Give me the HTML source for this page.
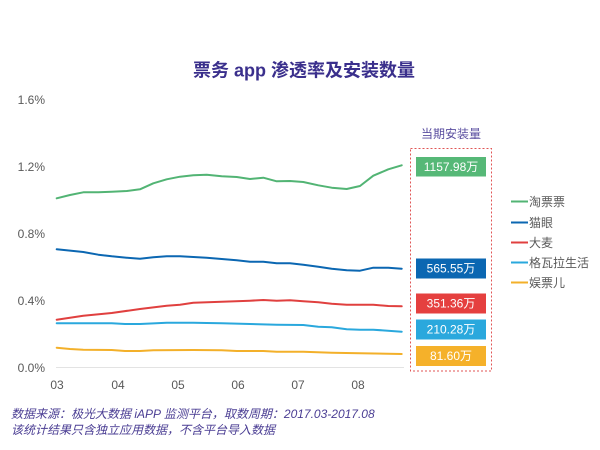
<!DOCTYPE html>
<html><head><meta charset="utf-8"><style>
html,body{margin:0;padding:0;background:#fff;}
svg{display:block;font-family:"Liberation Sans","Noto Sans CJK SC",sans-serif;}
</style></head><body>
<svg width="600" height="450" viewBox="0 0 600 450" xmlns="http://www.w3.org/2000/svg">
<rect width="600" height="450" fill="#fff"/>
<text x="304" y="76.5" text-anchor="middle" font-size="18" font-weight="bold" fill="#3a2f8c">票务 app 渗透率及安装数量</text>
<g font-size="12" fill="#595959" text-anchor="end">
<text x="45" y="104">1.6%</text>
<text x="45" y="171">1.2%</text>
<text x="45" y="238">0.8%</text>
<text x="45" y="305">0.4%</text>
<text x="45" y="372">0.0%</text>
</g>
<line x1="56" y1="367.5" x2="404" y2="367.5" stroke="#e3e3e3" stroke-width="1"/>
<g font-size="12" fill="#595959" text-anchor="middle">
<text x="57" y="389">03</text>
<text x="118" y="389">04</text>
<text x="178" y="389">05</text>
<text x="238" y="389">06</text>
<text x="298" y="389">07</text>
<text x="358" y="389">08</text>
</g>
<g fill="none" stroke-width="2" stroke-linejoin="round" stroke-linecap="round">
<polyline stroke="#52b474" points="56.7,198.3 70,195 83.3,192.3 98.3,192.3 111.7,191.7 126.7,191 140,189.3 153.3,183.3 166.7,179.3 180,176.7 193.3,175.3 206.7,174.7 221.7,176.3 236.7,177 250,179 263.3,177.7 276.7,181.3 290,181 303.3,182 318.3,185.3 331.7,187.7 346.7,189 360,186 373.3,175.7 388.3,169.3 401.7,165.3"/>
<polyline stroke="#0b67b2" points="56.7,249.3 83.3,252 98.3,254.7 111.7,256.3 126.7,257.7 140,258.7 153.3,257.3 166.7,256.3 180,256.3 193.3,257 206.7,257.7 221.7,259 236.7,260.3 250,261.7 263.3,261.7 276.7,263.3 290,263.3 303.3,264.7 318.3,266.7 331.7,268.7 346.7,270.3 360,270.7 373.3,267.7 388.3,267.7 401.7,268.7"/>
<polyline stroke="#e0403f" points="56.7,319.7 83.3,315.7 111.7,313 140,309 166.7,305.7 180,304.7 193.3,302.7 221.7,301.7 250,300.7 263.3,300 276.7,300.7 290,300.3 303.3,301.3 318.3,302.3 331.7,303.7 346.7,304.7 360,304.7 373.3,304.7 388.3,306 401.7,306.3"/>
<polyline stroke="#2aa8dd" points="56.7,323.3 83.3,323.3 111.7,323.3 125,324 140,324 166.7,322.7 193.3,322.7 206.7,323 221.7,323.3 250,324 276.7,324.7 303.3,325 318.3,326.7 331.7,327.3 346.7,329.3 360,329.7 373.3,329.7 401.7,331.7"/>
<polyline stroke="#f3b02a" points="56.7,347.7 70,349 83.3,349.7 111.7,350 125,351 140,351 153.3,350.3 193.3,350 221.7,350.3 236.7,351 263.3,351 276.7,351.7 303.3,351.7 331.7,352.7 360,353.3 401.7,354"/>
</g>
<text x="451" y="138" text-anchor="middle" font-size="12" fill="#5a4ea0">当期安装量</text>
<rect x="410.5" y="148.5" width="81" height="222.5" fill="none" stroke="#e05555" stroke-width="1" stroke-dasharray="2,2"/>
<g font-size="12" fill="#fff" text-anchor="middle">
<rect x="416" y="157" width="70" height="19.5" fill="#56b877"/>
<text x="451" y="171">1157.98万</text>
<rect x="416" y="258.5" width="70" height="20" fill="#0b67b2"/>
<text x="451" y="272.5">565.55万</text>
<rect x="416" y="293.5" width="70" height="20" fill="#e5403f"/>
<text x="451" y="307.5">351.36万</text>
<rect x="416" y="319.5" width="70" height="20" fill="#2aa8dd"/>
<text x="451" y="333.5">210.28万</text>
<rect x="416" y="346" width="70" height="20" fill="#f5b12a"/>
<text x="451" y="360">81.60万</text>
</g>
<g stroke-width="2">
<line x1="511" y1="201.5" x2="528" y2="201.5" stroke="#52b474"/>
<line x1="511" y1="222.5" x2="528" y2="222.5" stroke="#0b67b2"/>
<line x1="511" y1="242.5" x2="528" y2="242.5" stroke="#e0403f"/>
<line x1="511" y1="262.5" x2="528" y2="262.5" stroke="#2aa8dd"/>
<line x1="511" y1="282.5" x2="528" y2="282.5" stroke="#f3b02a"/>
</g>
<g font-size="12" fill="#595959">
<text x="529" y="206">淘票票</text>
<text x="529" y="227">猫眼</text>
<text x="529" y="247">大麦</text>
<text x="529" y="267">格瓦拉生活</text>
<text x="529" y="287">娱票儿</text>
</g>
<g font-size="12" fill="#4a3d93" font-style="italic">
<text x="11" y="418">数据来源：极光大数据 iAPP 监测平台，取数周期：2017.03-2017.08</text>
<text x="11" y="434">该统计结果只含独立应用数据，不含平台导入数据</text>
</g>
</svg>
</body></html>
